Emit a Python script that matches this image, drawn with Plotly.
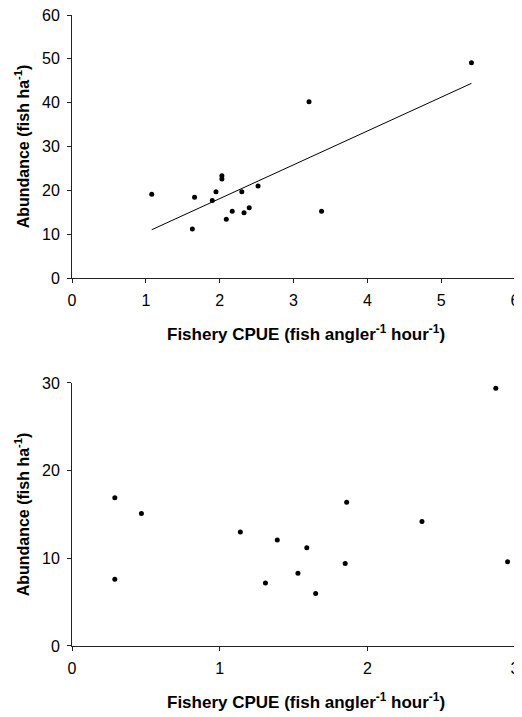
import numpy as np
import plotly.graph_objects as go

# ---- Data ----
top_cpue = [1.08, 1.66, 1.63, 1.90, 1.95, 2.03, 2.03, 2.09, 2.17, 2.30, 2.33, 2.40, 2.52, 3.21, 3.38, 5.41]
top_abund = [19.1, 18.4, 11.2, 17.7, 19.7, 23.3, 22.6, 13.4, 15.2, 19.7, 14.9, 16.0, 21.0, 40.2, 15.2, 49.1]

bot_cpue = [0.29, 0.29, 0.47, 1.14, 1.39, 1.31, 1.59, 1.53, 1.65, 1.85, 1.86, 2.37, 2.87, 2.95]
bot_abund = [16.9, 7.6, 15.1, 13.0, 12.1, 7.2, 11.2, 8.3, 6.0, 9.4, 16.4, 14.2, 29.4, 9.6]

top_xticks = [0, 1, 2, 3, 4, 5, 6]
top_yticks = [0, 10, 20, 30, 40, 50, 60]
bot_xticks = [0, 1, 2, 3]
bot_yticks = [0, 10, 20, 30]

x_title = "<b>Fishery CPUE (fish angler<sup>-1</sup> hour<sup>-1</sup>)</b>"
y_title = "<b>Abundance (fish ha<sup>-1</sup>)</b>"

# linear regression for the top panel
slope, intercept = np.polyfit(top_cpue, top_abund, 1)
fit_x = [min(top_cpue), max(top_cpue)]
fit_y = [slope * v + intercept for v in fit_x]

FONT = "Liberation Sans, Arial, sans-serif"

fig = go.Figure()
fig.add_trace(go.Scatter(x=fit_x, y=fit_y, mode="lines",
                         line=dict(color="black", width=1), xaxis="x", yaxis="y",
                         showlegend=False, hoverinfo="skip"))
fig.add_trace(go.Scatter(x=top_cpue, y=top_abund, mode="markers", cliponaxis=False,
                         marker=dict(color="black", size=5), xaxis="x", yaxis="y",
                         showlegend=False))
fig.add_trace(go.Scatter(x=bot_cpue, y=bot_abund, mode="markers", cliponaxis=False,
                         marker=dict(color="black", size=5), xaxis="x2", yaxis="y2",
                         showlegend=False))

axis_common = dict(showline=True, linecolor="#222", linewidth=1, ticks="outside",
                   ticklen=4, tickcolor="#222", tickwidth=1, showgrid=False,
                   zeroline=False, tickfont=dict(family=FONT, size=16, color="black"),
                   automargin=False, ticklabelstandoff=4, ticklabeloverflow="allow")
title_font = dict(family=FONT, size=16, color="black")
xtitle_font = dict(family=FONT, size=17, color="black")

fig.update_layout(
    width=514, height=709,
    margin=dict(l=64, r=7, t=7, b=71),
    paper_bgcolor="white", plot_bgcolor="white",
    xaxis=dict(domain=[0, 1], range=[0, 6], tickvals=top_xticks, anchor="y", **axis_common),
    yaxis=dict(domain=[0.5832, 1], range=[0, 60], tickvals=top_yticks, anchor="x",
               title=dict(text=y_title, font=title_font, standoff=8), **axis_common),
    xaxis2=dict(domain=[0, 1], range=[0, 3], tickvals=bot_xticks, anchor="y2", **axis_common),
    yaxis2=dict(domain=[0, 0.4168], range=[0, 30], tickvals=bot_yticks, anchor="x2",
                title=dict(text=y_title, font=title_font, standoff=8), **axis_common),
)

# x-axis titles (slightly right of the plot-area centre, as in the reference)
for xr, yr in (("x domain", "y domain"), ("x2 domain", "y2 domain")):
    fig.add_annotation(text=x_title, xref=xr, yref=yr, x=0.5, y=0, xshift=12, yshift=-55,
                       xanchor="center", yanchor="middle", showarrow=False,
                       font=xtitle_font)

fig.write_html("out.html")
